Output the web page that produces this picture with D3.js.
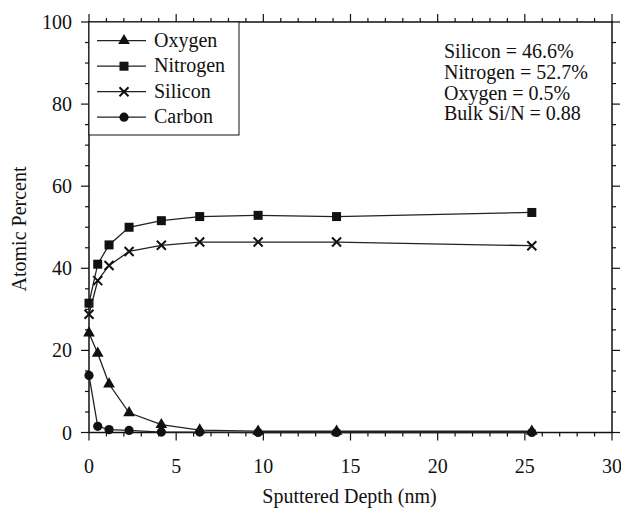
<!DOCTYPE html>
<html><head><meta charset="utf-8">
<script src="https://cdn.jsdelivr.net/npm/d3@7"></script>
<style>body{margin:0;background:#fff}svg{display:block}</style>
</head><body><svg id="c" width="621" height="508"></svg>
<script>
const depth    = [0, 0.5, 1.15, 2.3, 4.15, 6.35, 9.7, 14.2, 25.4];
const oxygen   = [24.2, 19.3, 11.8, 4.8, 1.9, 0.6, 0.3, 0.3, 0.3];
const nitrogen = [31.5, 41.0, 45.7, 50.0, 51.6, 52.6, 52.9, 52.6, 53.6];
const silicon  = [28.8, 37.0, 40.7, 44.1, 45.6, 46.4, 46.4, 46.4, 45.5];
const carbon   = [13.9, 1.5, 0.7, 0.5, 0.1, 0.1, 0.0, 0.0, 0.0];
const seriesNames = ["Oxygen", "Nitrogen", "Silicon", "Carbon"];
const seriesMarkers = ["triangle", "square", "cross", "circle"];
const xTicks = [0, 5, 10, 15, 20, 25, 30];
const yTicks = [0, 20, 40, 60, 80, 100];
const notes = ["Silicon = 46.6%", "Nitrogen = 52.7%", "Oxygen = 0.5%", "Bulk Si/N = 0.88"];

const FONT = '"Liberation Serif"';
const svg = d3.select("#c");
const L = 89, R = 612, T = 22, B = 432.5;
const x = d3.scaleLinear().domain([0, 30]).range([L, R]);
const y = d3.scaleLinear().domain([0, 100]).range([B, T]);

svg.append("rect").attr("x", L).attr("y", T).attr("width", R - L).attr("height", B - T)
  .attr("fill", "none").attr("stroke", "#111").attr("stroke-width", 1.5);

const minorX = d3.range(0, 31, 1), minorY = d3.range(0, 101, 5);
function ticks(axis, g, major, minor){
  g.selectAll("line").data(minor).enter().append("line").attr("stroke","#111").attr("stroke-width",1.2)
   .each(function(d){
     const isMaj = major.includes(d); const len = isMaj ? 8 : 4; const s = d3.select(this);
     if(axis==="b") s.attr("x1",x(d)).attr("x2",x(d)).attr("y1",B).attr("y2",B+len);
     if(axis==="t") s.attr("x1",x(d)).attr("x2",x(d)).attr("y1",T).attr("y2",T-len);
     if(axis==="l") s.attr("y1",y(d)).attr("y2",y(d)).attr("x1",L).attr("x2",L-len);
     if(axis==="r") s.attr("y1",y(d)).attr("y2",y(d)).attr("x1",R).attr("x2",R+len);
   });
}
ticks("b", svg.append("g"), xTicks, minorX);
ticks("t", svg.append("g"), xTicks, minorX);
ticks("l", svg.append("g"), yTicks, minorY);
ticks("r", svg.append("g"), yTicks, minorY);

function st(sel){ return sel.style("font-family", FONT).attr("fill","#111").attr("font-size",20); }

st(svg.append("g").selectAll("text").data(xTicks).enter().append("text"))
  .attr("x", d => x(d)).attr("y", 473).attr("text-anchor","middle").text(d => d);
st(svg.append("g").selectAll("text").data(yTicks).enter().append("text"))
  .attr("x", 72).attr("y", d => y(d) + 7).attr("text-anchor","end").text(d => d);

st(svg.append("text")).attr("x", (L+R)/2 - 1).attr("y", 503).attr("text-anchor","middle").text("Sputtered Depth (nm)");
st(svg.append("text")).attr("transform","translate(26,229) rotate(-90)").attr("text-anchor","middle").text("Atomic Percent");

function marker(g, type, cx, cy){
  if(type==="triangle") g.append("path").attr("d", d3.symbol(d3.symbolTriangle, 60)()).attr("transform",`translate(${cx},${cy})`).attr("fill","#111");
  if(type==="square") g.append("rect").attr("x",cx-4.5).attr("y",cy-4.5).attr("width",9).attr("height",9).attr("fill","#111");
  if(type==="circle") g.append("circle").attr("cx",cx).attr("cy",cy).attr("r",4.6).attr("fill","#111");
  if(type==="cross") g.append("path").attr("d",`M${cx-4.5},${cy-4.5}L${cx+4.5},${cy+4.5}M${cx-4.5},${cy+4.5}L${cx+4.5},${cy-4.5}`).attr("stroke","#111").attr("stroke-width",2).attr("fill","none");
}

const data = [oxygen, nitrogen, silicon, carbon];
const line = d3.line().x((d,i)=>x(depth[i])).y(d=>y(d));
const plot = svg.append("g");
data.forEach((vals, k) => {
  plot.append("path").datum(vals).attr("d", line).attr("fill","none").attr("stroke","#222").attr("stroke-width",1.3);
  const g = plot.append("g");
  vals.forEach((v,i) => marker(g, seriesMarkers[k], x(depth[i]), y(v)));
});

const lg = svg.append("g");
lg.append("rect").attr("x", L).attr("y", T).attr("width", 150).attr("height", 113).attr("fill","#fff").attr("stroke","#111").attr("stroke-width",1);
seriesNames.forEach((n,i) => {
  const yy = 40.7 + i*25.5;
  lg.append("line").attr("x1",97).attr("x2",146).attr("y1",yy).attr("y2",yy).attr("stroke","#222").attr("stroke-width",1.3);
  marker(lg, seriesMarkers[i], 124, yy);
  st(lg.append("text")).attr("x",154).attr("y",yy+6).text(n);
});

st(svg.append("g").selectAll("text").data(notes).enter().append("text"))
  .attr("x", 444).attr("y", (d,i)=> 58.3 + i*20.7).text(d=>d);
</script></body></html>
